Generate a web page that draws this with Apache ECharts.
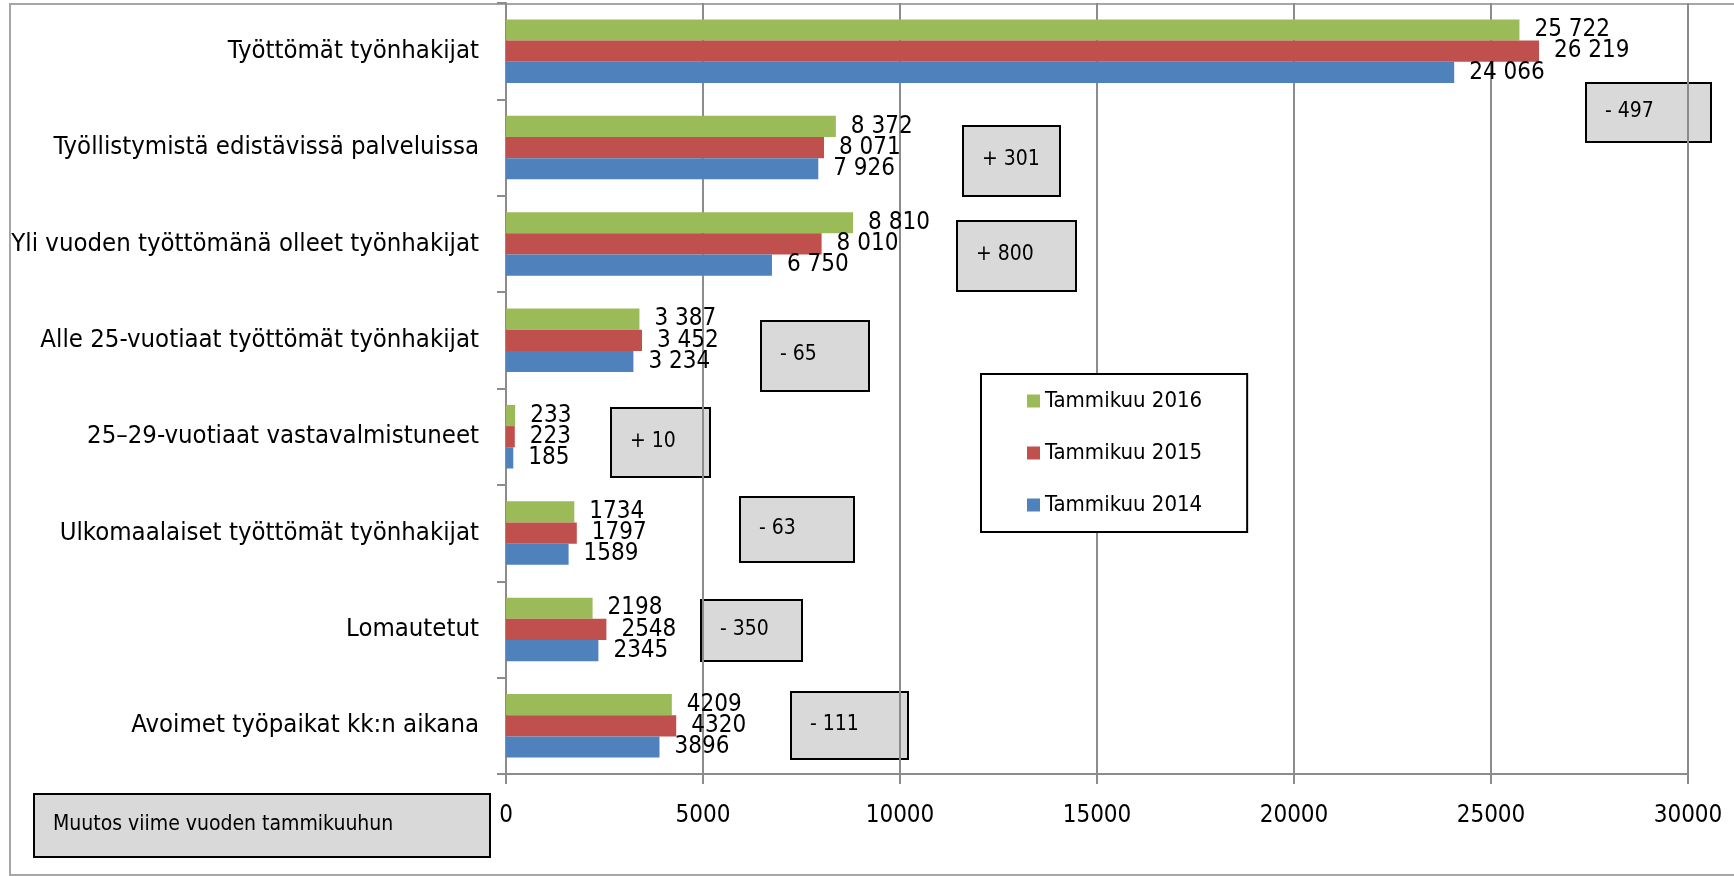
<!DOCTYPE html>
<html>
<head>
<meta charset="utf-8">
<script src="https://cdn.jsdelivr.net/npm/echarts@6/dist/echarts.min.js"></script>
<style>
	html, body { margin: 0; padding: 0; background: #fff; }
	#chart { width: 1734px; height: 876px; }
</style>
</head>
<body>
<div id="chart"></div>
<script>
var categories = [ "Työttömät työnhakijat", "Työllistymistä edistävissä palveluissa",
	"Yli vuoden työttömänä olleet työnhakijat", "Alle 25-vuotiaat työttömät työnhakijat",
	"25–29-vuotiaat vastavalmistuneet", "Ulkomaalaiset työttömät työnhakijat",
	"Lomautetut", "Avoimet työpaikat kk:n aikana" ];
var seriesNames = [ "Tammikuu 2016", "Tammikuu 2015", "Tammikuu 2014" ];
var values2016 = [ 25722, 8372, 8810, 3387, 233, 1734, 2198, 4209 ];
var values2015 = [ 26219, 8071, 8010, 3452, 223, 1797, 2548, 4320 ];
var values2014 = [ 24066, 7926, 6750, 3234, 185, 1589, 2345, 3896 ];
var changeLabels = [ "- 497", "+ 301", "+ 800", "- 65", "+ 10", "- 63", "- 350", "- 111" ];
var noteLabel = "Muutos viime vuoden tammikuuhun";
// rows whose labels use a space as thousands separator
var spacedRows = 4;

// box layout [x, y, w, h] for the change boxes, in pixels
var changeBoxes = [ [ 1586, 83, 125, 59 ], [ 963, 126, 97, 70 ], [ 957, 221, 119, 70 ],
	[ 761, 321, 108, 70 ], [ 611, 408, 99, 69 ], [ 740, 497, 114, 65 ],
	[ 701, 600, 101, 61 ], [ 791, 692, 117, 67 ] ];
var noteBox = [ 34, 794, 456, 63 ];

var font = "'DejaVu Sans Condensed', 'DejaVu Sans', sans-serif";
var colors = [ "#9BBB59", "#C0504D", "#4F81BD" ];

function fmt(p) {
	var s = String(p.value);
	if (p.dataIndex < spacedRows) s = s.replace(/\B(?=(\d{3})+(?!\d))/g, " ");
	return s;
}

function box(b, label) {
	return {
		type : "group",
		children : [ {
			type : "rect",
			shape : { x : b[0], y : b[1], width : b[2], height : b[3] },
			style : { fill : "#D9D9D9", stroke : "#000", lineWidth : 2 }
		}, {
			type : "text",
			x : b[0] + 19,
			y : b[1] + b[3] / 2 - 1,
			style : { text : label, fill : "#000", font : "21px " + font, verticalAlign : "middle" }
		} ]
	};
}

var graphics = [ {
	type : "rect",
	shape : { x : 10, y : 4, width : 1740, height : 871 },
	style : { fill : null, stroke : "#A6A6A6", lineWidth : 2 },
	silent : true
} ];
changeLabels.forEach(function(t, i) { graphics.push(box(changeBoxes[i], t)); });
graphics.push(box(noteBox, noteLabel));

var seriesData = [ values2016, values2015, values2014 ];
var series = seriesNames.map(function(n, i) {
	return {
		name : n,
		type : "bar",
		data : seriesData[i],
		barGap : "0%",
		barCategoryGap : "34%",
		itemStyle : { color : colors[i] },
		label : {
			show : true,
			position : "right",
			distance : 15,
			formatter : fmt,
			color : "#000",
			fontFamily : font,
			fontSize : 24
		},
		silent : true
	};
});

var chart = echarts.init(document.getElementById("chart"));
chart.setOption({
	animation : false,
	grid : { left : 506, right : 46, top : 3, bottom : 102, containLabel : false, outerBoundsMode : "none" },
	legend : {
		data : seriesNames,
		orient : "vertical",
		left : 981,
		top : 374,
		padding : [ 12, 45, 12, 46 ],
		borderColor : "#000",
		borderWidth : 2,
		backgroundColor : "#fff",
		icon : "rect",
		itemWidth : 13,
		itemHeight : 13,
		itemGap : 22,
		itemTextGap : 6,
		textStyle : { color : "#000", fontFamily : font, fontSize : 22, lineHeight : 30 },
		selectedMode : false
	},
	xAxis : {
		type : "value",
		min : 0,
		max : 30000,
		interval : 5000,
		axisLine : { show : true, lineStyle : { color : "#8C8C8C", width : 2 } },
		axisTick : { show : true, length : 10, lineStyle : { color : "#8C8C8C", width : 2 } },
		splitLine : { lineStyle : { color : "#8C8C8C", width : 2 } },
		axisLabel : { color : "#000", fontFamily : font, fontSize : 24, margin : 30, formatter : function(v) { return String(v); } }
	},
	yAxis : {
		type : "category",
		inverse : true,
		data : categories,
		axisLine : { lineStyle : { color : "#8C8C8C", width : 2 } },
		axisTick : { show : true, length : 9, lineStyle : { color : "#8C8C8C", width : 2 } },
		axisLabel : { color : "#000", fontFamily : font, fontSize : 25.5, margin : 27 }
	},
	series : series,
	graphic : graphics
});
</script>
</body>
</html>
